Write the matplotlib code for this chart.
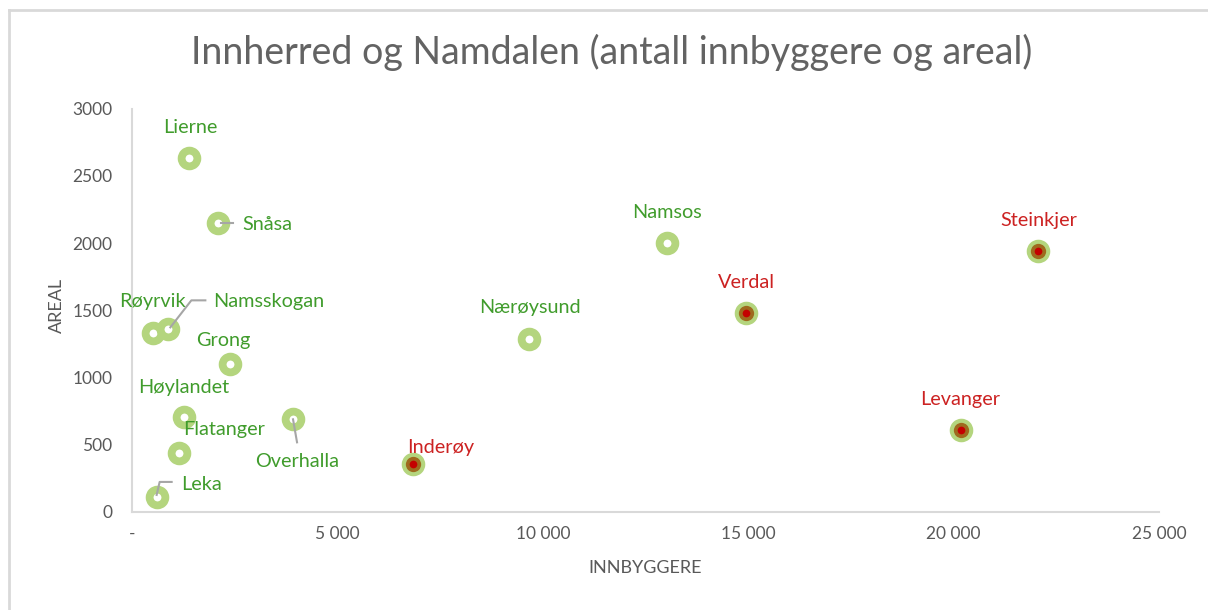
import matplotlib.pyplot as plt
from matplotlib.lines import Line2D

# data lest av figuren
kommuner = ['Lierne', 'Snåsa', 'Røyrvik', 'Namsskogan', 'Grong', 'Høylandet',
            'Flatanger', 'Overhalla', 'Leka', 'Inderøy', 'Nærøysund', 'Namsos',
            'Verdal', 'Steinkjer', 'Levanger']
innbyggere = [1390, 2100, 500, 885, 2390, 1265, 1140, 3920, 600, 6840, 9670,
              13020, 14950, 22050, 20170]
areal = [2634, 2146, 1333, 1358, 1098, 704, 439, 689, 112, 355, 1286, 2002,
         1477, 1938, 610]
innherred = ['Inderøy', 'Verdal', 'Steinkjer', 'Levanger']

x_ticks = [0, 5000, 10000, 15000, 20000, 25000]
x_ticklabels = ['-', '5 000', '10 000', '15 000', '20 000', '25 000']
y_ticks = [0, 500, 1000, 1500, 2000, 2500, 3000]

# plassering av etiketter (piksler fra punktet) og ledelinjer
label_pos = {
    'Lierne': (1, 30, 'center'), 'Snåsa': (24, -1, 'left'),
    'Røyrvik': (0, 31, 'center'), 'Namsskogan': (45, 28, 'left'),
    'Grong': (-7, 24, 'center'), 'Høylandet': (0, 30, 'center'),
    'Flatanger': (4, 23, 'left'), 'Overhalla': (4, -42, 'center'),
    'Leka': (24, 12, 'left'), 'Inderøy': (28, 17, 'center'),
    'Nærøysund': (1, 32, 'center'), 'Namsos': (0, 30, 'center'),
    'Verdal': (0, 31, 'center'), 'Steinkjer': (1, 31, 'center'),
    'Levanger': (0, 30, 'center'),
}
leaders = {
    'Snåsa': [(3, 0), (15, 0)],
    'Namsskogan': [(2, 2), (23, 29), (37, 29)],
    'Overhalla': [(0, 0), (4, -23)],
    'Leka': [(0, 2), (3, 15), (15, 15)],
}

GREEN_RING = '#b4d57e'
GREEN_TXT = '#409c2c'
RED_TXT = '#cc2222'
GREY = '#595959'

plt.rcParams['font.family'] = ['Lato', 'DejaVu Sans']

fig = plt.figure(figsize=(12.08, 6.10), dpi=100)
ax = fig.add_axes([132 / 1208, 1 - 512 / 610, (1159 - 132) / 1208, (512 - 108.5) / 610])

# ramme rundt diagrammet
fig.add_artist(Line2D([9 / 1208, 9 / 1208], [0, 1 - 10 / 610], color='#d9d9d9', lw=2))
fig.add_artist(Line2D([9 / 1208, 1], [1 - 10 / 610, 1 - 10 / 610], color='#d9d9d9', lw=2))

# grønne ringer for alle kommuner
ax.scatter(innbyggere, areal, s=129, facecolor='white', edgecolor=GREEN_RING,
           linewidth=5.6, zorder=3, clip_on=False)

# Innherred: brun ring og rød kjerne
ix = [innbyggere[i] for i, k in enumerate(kommuner) if k in innherred]
iy = [areal[i] for i, k in enumerate(kommuner) if k in innherred]
ax.scatter(ix, iy, s=(15.3 / 1.389) ** 2, color='#9e6a1e', linewidth=0, zorder=4)
ax.scatter(ix, iy, s=(7.7 / 1.389) ** 2, color='#c40000', linewidth=0, zorder=5)

ax.set_xlim(0, 25000)
ax.set_ylim(0, 3000)
ax.set_xticks(x_ticks)
ax.set_xticklabels(x_ticklabels)
ax.set_yticks(y_ticks)
ax.tick_params(length=0, colors=GREY, labelsize=12.5)
ax.tick_params(axis='x', pad=10)
ax.tick_params(axis='y', pad=14)
for side in ['top', 'right']:
    ax.spines[side].set_visible(False)
for side in ['left', 'bottom']:
    ax.spines[side].set_color('#d9d9d9')
    ax.spines[side].set_linewidth(1.5)

# etiketter
for k, x, y in zip(kommuner, innbyggere, areal):
    dx, dy, ha = label_pos[k]
    c = RED_TXT if k in innherred else GREEN_TXT
    ax.annotate(k, (x, y), xytext=(dx, dy), textcoords='offset pixels',
                ha=ha, va='center', fontsize=14.3, color=c, zorder=6)

# ledelinjer i piksler
fig.canvas.draw()
for k, path in leaders.items():
    i = kommuner.index(k)
    px, py = ax.transData.transform((innbyggere[i], areal[i]))
    fig.add_artist(Line2D([px + p[0] for p in path], [py + p[1] for p in path],
                          transform=None, color='#a6a6a6', lw=1.5, zorder=6))

fig.text(612 / 1208, 1 - 52 / 610, 'Innherred og Namdalen (antall innbyggere og areal)',
         ha='center', va='center', fontsize=27, color='#636363')
fig.text(57 / 1208, 1 - 305 / 610, 'AREAL', rotation=90, ha='center', va='center',
         fontsize=13, color=GREY)
fig.text(645 / 1208, 1 - 568 / 610, 'INNBYGGERE', ha='center', va='center',
         fontsize=13, color=GREY)

fig.savefig('out.png', dpi=100)
